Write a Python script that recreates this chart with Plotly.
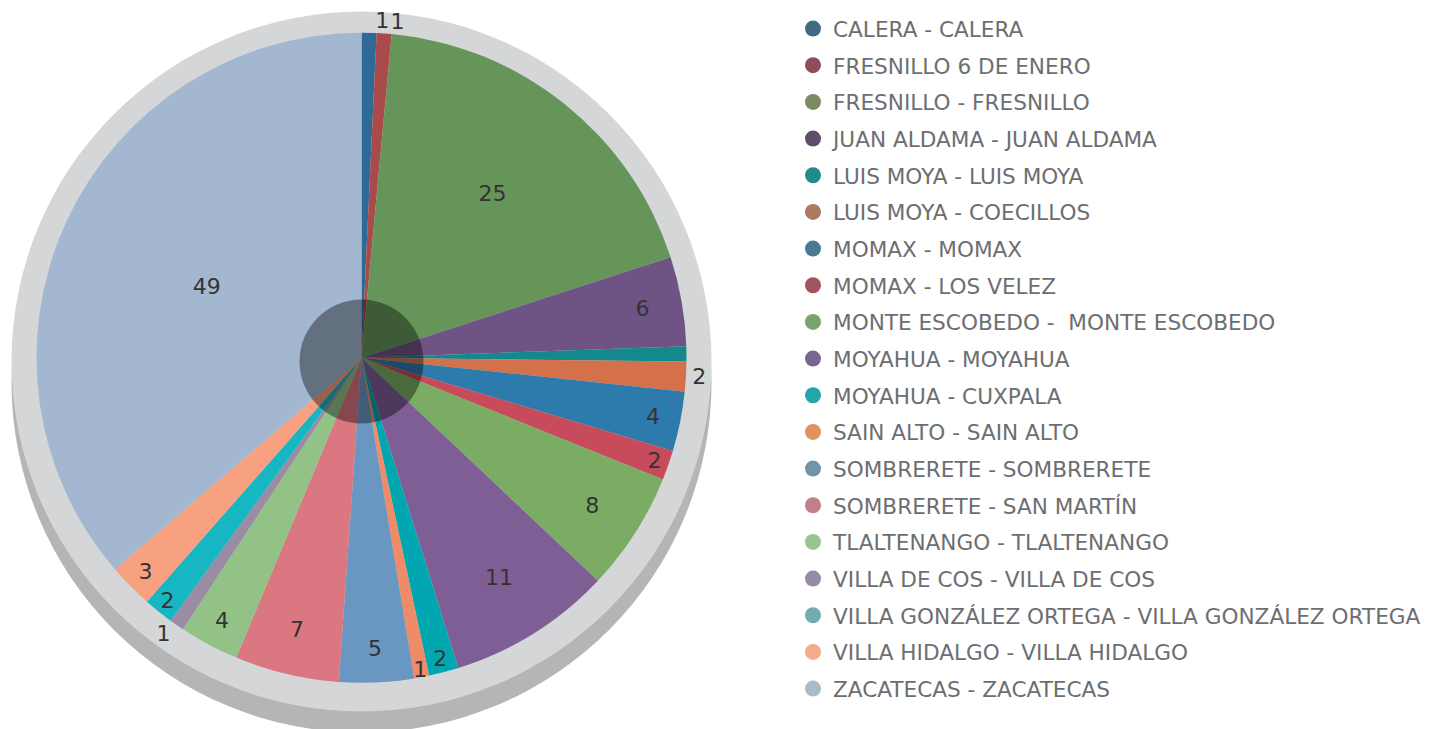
import plotly.graph_objects as go

# ---- data -------------------------------------------------------------
labels = [
    "CALERA - CALERA",
    "FRESNILLO 6 DE ENERO",
    "FRESNILLO - FRESNILLO",
    "JUAN ALDAMA - JUAN ALDAMA",
    "LUIS MOYA - LUIS MOYA",
    "LUIS MOYA - COECILLOS",
    "MOMAX - MOMAX",
    "MOMAX - LOS VELEZ",
    "MONTE ESCOBEDO -  MONTE ESCOBEDO",
    "MOYAHUA - MOYAHUA",
    "MOYAHUA - CUXPALA",
    "SAIN ALTO - SAIN ALTO",
    "SOMBRERETE - SOMBRERETE",
    "SOMBRERETE - SAN MARTÍN",
    "TLALTENANGO - TLALTENANGO",
    "VILLA DE COS - VILLA DE COS",
    "VILLA GONZÁLEZ ORTEGA - VILLA GONZÁLEZ ORTEGA",
    "VILLA HIDALGO - VILLA HIDALGO",
    "ZACATECAS - ZACATECAS",
]
values = [1, 1, 25, 6, 1, 2, 4, 2, 8, 11, 2, 1, 5, 7, 4, 1, 2, 3, 49]
slice_text = ["1", "1", "25", "6", "", "2", "4", "2", "8", "11",
              "2", "1", "5", "7", "4", "1", "2", "3", "49"]
text_pos = ["outside", "outside", "inside", "inside", "inside", "outside",
            "inside", "inside", "inside", "inside", "inside", "inside",
            "inside", "inside", "inside", "outside", "inside", "inside",
            "inside"]
slice_colors = [
    "#2f6a96", "#a94b4a", "#66955a", "#6e5384", "#13898e", "#d4714a",
    "#2d7bac", "#c84b5b", "#7aad63", "#7f5e95", "#00a6b0", "#f08b68",
    "#6997c2", "#db7780", "#92c286", "#9a8ca3", "#16b6c3", "#f7a181",
    "#a3b8d0",
]
legend_colors = [
    "#416b85", "#8e4d58", "#7c8a66", "#5f4d6c", "#218a8c", "#ac7a63",
    "#4b7a93", "#a5525f", "#7aa36c", "#7a6791", "#23a5ab", "#e0925f",
    "#7293a8", "#c0808a", "#99c390", "#978aa3", "#71acb3", "#f5aa8c",
    "#a9bcc6",
]

# ---- layout constants -------------------------------------------------
W, H = 1442, 729
OFF = 8                                  # page body margin of the html
FONT = "DejaVu Sans"
LEG_SIZE = 21.6
cx, cy, r = 361.5 - OFF, 357.7 - OFF, 325   # pie centre / radius (px)
ring_cy, ring_r = 361.5 - OFF, 350           # grey base
shadow_dy = 21
hole_r = 62


def circle(cxp, cyp, rad, color, layer="below", opacity=1.0):
    return dict(
        type="circle", xref="paper", yref="paper",
        x0=(cxp - rad) / W, x1=(cxp + rad) / W,
        y0=1 - (cyp + rad) / H, y1=1 - (cyp - rad) / H,
        fillcolor=color, line=dict(width=0), layer=layer, opacity=opacity,
    )


domain = dict(x=[(cx - r) / W, (cx + r) / W],
              y=[1 - (cy + r) / H, 1 - (cy - r) / H])
tfont = dict(family=FONT, size=22, color="#333333")

# labels split over two overlaid pies so the two neighbouring outside
# labels at the top are not pushed apart
main_text = [t if i != 1 else "" for i, t in enumerate(slice_text)]
extra_text = [t if i == 1 else "" for i, t in enumerate(slice_text)]

fig = go.Figure()

fig.add_trace(go.Pie(
    labels=labels, values=values,
    text=main_text, textinfo="text", textposition=text_pos,
    insidetextorientation="horizontal",
    sort=False, direction="clockwise", rotation=0,
    marker=dict(colors=slice_colors, line=dict(width=0)),
    textfont=tfont, outsidetextfont=tfont,
    domain=domain, showlegend=False, hoverinfo="label+value",
))
fig.add_trace(go.Pie(
    labels=labels, values=values,
    text=extra_text, textinfo="text", textposition=text_pos,
    insidetextorientation="horizontal",
    sort=False, direction="clockwise", rotation=0,
    marker=dict(colors=["rgba(0,0,0,0)"] * len(values), line=dict(width=0)),
    textfont=tfont, outsidetextfont=tfont,
    domain=domain, showlegend=False, hoverinfo="skip",
))

for lab, col in zip(labels, legend_colors):
    fig.add_trace(go.Scatter(
        x=[None], y=[None], mode="markers", name=lab, legendgroup=lab,
        marker=dict(size=20, color=col, symbol="circle"),
        showlegend=True, hoverinfo="skip",
    ))

fig.update_layout(
    width=W, height=H,
    margin=dict(l=0, r=0, t=0, b=0, pad=0, autoexpand=False),
    paper_bgcolor="white",
    plot_bgcolor="rgba(0,0,0,0)",
    xaxis=dict(visible=False),
    yaxis=dict(visible=False),
    uniformtext=dict(minsize=22, mode="show"),
    shapes=[
        circle(cx, ring_cy + shadow_dy, ring_r, "#b4b5b7"),
        circle(cx, ring_cy, ring_r, "#d5d6d8"),
        circle(cx, ring_cy, hole_r, "black", layer="above", opacity=0.39),
    ],
    legend=dict(
        x=(793 - OFF) / W, xanchor="left",
        y=1, yanchor="top",
        font=dict(family=FONT, size=LEG_SIZE, color="#6d6e71"),
        tracegroupgap=36.67 - (1.3 * LEG_SIZE + 3),
        bgcolor="rgba(0,0,0,0)",
        borderwidth=0,
    ),
    showlegend=True,
)

fig.write_html("out.html")
